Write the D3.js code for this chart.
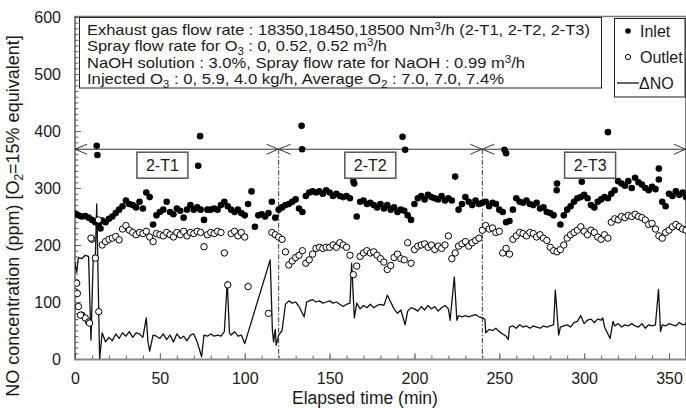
<!DOCTYPE html>
<html>
<head>
<meta charset="utf-8">
<script src="https://cdn.jsdelivr.net/npm/d3@7"></script>
<style>
body { margin: 0; background: #fff; }
text { font-family: Arial, "Liberation Sans", sans-serif; fill: #1a1a1a; }
</style>
</head>
<body>
<svg id="chart" width="686" height="408"></svg>
<script>
// ---- data ----
var timeStep = 2;   // minutes between samples of inlet / outlet

var inletNO = [
    255,252,250,251,248,244,240,236,243,240,
    246,250,256,262,268,278,272,270,266,276,
    264,292,284,236,252,258,262,276,258,254,
    264,260,248,262,270,262,266,262,244,262,
    262,264,262,270,276,268,262,258,262,256,
    252,272,294,232,252,254,250,256,276,248,
    262,266,270,272,276,280,264,258,286,292,
    294,292,294,290,296,292,286,290,286,284,
    286,282,312,250,276,278,272,274,270,266,
    272,264,270,262,266,258,262,260,252,244,
    272,282,286,280,288,284,282,280,286,278,
    282,278,320,262,272,284,276,270,278,272,
    274,276,268,274,272,262,258,240,242,262,
    282,276,274,278,272,270,274,264,266,258,
    256,252,308,236,252,262,268,276,282,284,
    288,282,270,266,276,280,284,282,290,296,
    312,308,304,312,300,318,310,306,300,296,
    302,298,334,276,268,290,286,294,288,292,
    284
];

var outletNO = [
    118,92,77,72,65,210,177,83,200,206,
    210,212,215,209,228,234,226,222,218,222,
    220,224,214,206,220,218,216,222,218,214,
    222,218,224,216,222,220,224,222,197,218,
    222,220,224,222,186,130,220,224,216,222,
    214,127,null,null,null,null,null,80,222,218,
    214,210,188,165,172,178,182,190,168,174,
    184,194,196,194,196,196,200,196,204,200,
    196,182,148,163,180,186,190,186,188,182,
    176,170,157,164,178,184,176,174,204,168,
    192,198,200,202,196,200,192,198,194,200,
    216,176,186,198,202,206,198,204,208,212,
    226,234,228,230,222,224,186,194,184,210,
    216,222,220,216,222,220,214,218,212,208,
    196,190,188,192,200,212,218,222,226,232,
    224,218,226,222,214,210,218,212,240,246,
    244,250,248,252,250,254,250,248,244,236,
    238,228,216,212,222,226,232,236,232,228,
    226
];

// isolated readings between the regular samples [min, ppm]
var inletExtra = [[12.8,374],[13.2,358],[15,229],[72.6,339],[73.7,391],[133.5,409],[133.8,368],
    [164.5,308],[193,390],[194.5,367],[253,367],[254,361],[283.8,296],[298.6,311],[314,398],[344,315]];
var outletExtra = [[1,133],[1.4,115],[3.2,77],[8.6,63],[9.4,212],[13.8,244]];

// delta NO (inlet - outlet) [min, ppm]
var deltaNO = [[0,168],[1,152],[2,178],[4,176],[6,182],[8,180],[9.4,33],[10.8,182],[12,180],[12.8,272],[14.5,0],
    [16,46],[18,30],[20,38],[22,32],[24,44],[26,36],[28,46],[30,40],[32,48],[34,38],[36,46],[38,44],[40,38],
    [42,72],[43,30],[44,14],[46,42],[48,40],[50,36],[52,44],[54,34],[56,42],[58,30],[60,44],[62,36],[64,40],
    [66,32],[68,42],[70,44],[72,30],[74.6,4],[76,42],[78,40],[80,44],[82,40],[84,42],[86,40],[88,48],[89.7,136],
    [91,46],[92,42],[94,48],[96,40],[98,42],[100,27],[115,174],[116.3,51],[117,30],[118,52],[118.5,24],[120,42],
    [122,50],[124,96],[126,102],[128,98],[130,100],[132,92],[135,74],[136.5,100],[138,102],[140,104],[142,100],
    [144,102],[146,98],[148,100],[150,102],[152,98],[154,100],[156,96],[158,92],[160,96],[162,98],[163,168],
    [164.6,72],[166,98],[168,88],[170,94],[172,90],[174,96],[176,90],[178,94],[180,96],[182,94],[184,112],
    [186,100],[188,88],[190,80],[192,86],[194.5,60],[196,84],[198,90],[200,88],[202,84],[204,92],[206,86],
    [208,94],[210,88],[212,92],[214,84],[216,90],[218,94],[220,88],[221,68],[223.5,144],[225,68],[226,76],
    [228,74],[230,76],[232,74],[234,76],[236,78],[238,74],[240,72],[241.5,70],[242,46],[244,52],[246,50],
    [248,54],[250,48],[252,44],[254,40],[255.3,34],[256,56],[258,58],[260,54],[262,60],[264,56],[266,58],
    [268,54],[270,58],[272,56],[274,54],[276,58],[278,56],[280,58],[282,60],[283,121],[285,42],[286,56],
    [288,58],[290,60],[292,56],[294,64],[296,66],[298,76],[300,62],[302,68],[304,70],[306,64],[308,70],
    [310,68],[311,72],[312,56],[315.3,36],[317,66],[318,58],[320,62],[322,56],[324,60],[326,58],[328,62],
    [330,58],[332,56],[334,62],[336,54],[338,60],[340,58],[342,60],[343.8,122],[345,48],[346,60],[348,58],
    [350,62],[352,60],[354,58],[356,64],[358,60],[360,62]];

var xTicks = [0, 50, 100, 150, 200, 250, 300, 350];
var yTicks = [0, 100, 200, 300, 400, 500, 600];
var phaseBounds = [0, 120, 240, 360];
var phaseNames = ["2-T1", "2-T2", "2-T3"];
var phaseArrowLevel = 368;

// info box lines: [text, kind] with kind "" / "sub" / "sup"
var infoLines = [
    [["Exhaust gas flow rate : 18350,18450,18500 Nm", ""], ["3", "sup"], ["/h (2-T1, 2-T2, 2-T3)", ""]],
    [["Spray flow rate for O", ""], ["3", "sub"], [" : 0, 0.52, 0.52 m", ""], ["3", "sup"], ["/h", ""]],
    [["NaOH solution : 3.0%, Spray flow rate for NaOH : 0.99 m", ""], ["3", "sup"], ["/h", ""]],
    [["Injected O", ""], ["3", "sub"], [" : 0, 5.9, 4.0 kg/h, Average O", ""], ["2", "sub"], ["  : 7.0, 7.0, 7.4%", ""]]
];
var legendNames = ["Inlet", "Outlet", "\u0394NO"];

// ---- layout ----
var svg = d3.select("#chart");
var plotL = 75, plotR = 686, plotT = 17, plotB = 359;

var x = d3.scaleLinear().domain([0, 360]).range([plotL, plotR]);
var y = d3.scaleLinear().domain([0, 600]).range([plotB, plotT]);

svg.append("defs").append("clipPath").attr("id", "plotClip")
    .append("rect").attr("x", plotL).attr("y", plotT).attr("width", plotR - plotL).attr("height", plotB - plotT);

function styleTicks(g, withText) {
    g.select(".domain").remove();
    g.selectAll("line").attr("stroke", "#666");
    if (withText)
        g.selectAll("text").attr("font-size", 16).attr("font-family", "Arial, 'Liberation Sans', sans-serif").attr("fill", "#1a1a1a");
}

// minor ticks
svg.append("g").attr("transform", "translate(0," + plotB + ")")
    .call(d3.axisBottom(x).tickValues(d3.range(0, 361, 10)).tickSize(-3.5).tickSizeOuter(0).tickFormat(""))
    .call(styleTicks, false);
svg.append("g").attr("transform", "translate(" + plotL + ",0)")
    .call(d3.axisLeft(y).tickValues(d3.range(0, 601, 10)).tickSize(-3.5).tickSizeOuter(0).tickFormat(""))
    .call(styleTicks, false);

// major ticks + labels
svg.append("g").attr("transform", "translate(0," + plotB + ")")
    .call(d3.axisBottom(x).tickValues(xTicks).tickSize(-6).tickSizeOuter(0).tickPadding(14))
    .call(styleTicks, true);
svg.append("g").attr("transform", "translate(" + plotL + ",0)")
    .call(d3.axisLeft(y).tickValues(yTicks).tickSize(-6).tickSizeOuter(0).tickPadding(14))
    .call(styleTicks, true);

// frame
svg.append("line").attr("x1", plotL).attr("x2", plotR).attr("y1", plotT - 0.5).attr("y2", plotT - 0.5)
    .attr("stroke", "#777").attr("stroke-width", 1.5);
svg.append("line").attr("x1", plotR - 0.5).attr("x2", plotR - 0.5).attr("y1", plotT).attr("y2", plotB)
    .attr("stroke", "#777").attr("stroke-width", 1);
svg.append("line").attr("x1", plotL).attr("x2", plotL).attr("y1", plotT - 1).attr("y2", plotB)
    .attr("stroke", "#333").attr("stroke-width", 1.2);
svg.append("line").attr("x1", plotL - 1).attr("x2", plotR).attr("y1", plotB + 0.5).attr("y2", plotB + 0.5)
    .attr("stroke", "#888").attr("stroke-width", 2);

// axis titles
svg.append("text").attr("x", 365).attr("y", 404).attr("text-anchor", "middle")
    .attr("font-size", 17.5).text("Elapsed time (min)");
var yTitle = svg.append("text").attr("transform", "translate(19,216) rotate(-90)")
    .attr("text-anchor", "middle").attr("font-size", 18);
yTitle.append("tspan").text("NO concentration (ppm) [O");
yTitle.append("tspan").attr("font-size", 12).attr("dy", 4).text("2");
yTitle.append("tspan").attr("dy", -4).text("=15% equivalent]");

// phase separators and arrows
var plot = svg.append("g").attr("clip-path", "url(#plotClip)");
var ay = y(phaseArrowLevel);
plot.selectAll(".sep").data(phaseBounds.slice(1, 3)).enter().append("line")
    .attr("x1", function (d) { return x(d); }).attr("x2", function (d) { return x(d); })
    .attr("y1", ay).attr("y2", plotB)
    .attr("stroke", "#333").attr("stroke-width", 1).attr("stroke-dasharray", "5,2,1.5,2");
plot.append("line").attr("x1", x(0)).attr("x2", x(360)).attr("y1", ay).attr("y2", ay)
    .attr("stroke", "#333").attr("stroke-width", 1);
var heads = [];
phaseBounds.forEach(function (b) {
    if (b < 360) heads.push([[x(b) + 12, ay - 5], [x(b), ay], [x(b) + 12, ay + 5]]);
    if (b > 0) heads.push([[x(b) - 12, ay - 5], [x(b) - 0.5, ay], [x(b) - 12, ay + 5]]);
});
plot.selectAll(".head").data(heads).enter().append("path")
    .attr("d", d3.line()).attr("fill", "none").attr("stroke", "#333").attr("stroke-width", 1);

// delta NO line
plot.append("path").datum(deltaNO)
    .attr("d", d3.line().x(function (d) { return x(d[0]); }).y(function (d) { return y(d[1]); }))
    .attr("fill", "none").attr("stroke", "#111").attr("stroke-width", 1.3).attr("stroke-linejoin", "round");

function samples(arr, extra) {
    var pts = [];
    arr.forEach(function (v, i) { if (v !== null) pts.push([i * timeStep, v]); });
    return pts.concat(extra);
}

plot.selectAll(".inlet").data(samples(inletNO, inletExtra)).enter().append("circle")
    .attr("cx", function (d) { return x(d[0]); }).attr("cy", function (d) { return y(d[1]); })
    .attr("r", 3.3).attr("fill", "#000");

plot.selectAll(".outlet").data(samples(outletNO, outletExtra)).enter().append("circle")
    .attr("cx", function (d) { return x(d[0]); }).attr("cy", function (d) { return y(d[1]); })
    .attr("r", 3.2).attr("fill", "#fff").attr("stroke", "#000").attr("stroke-width", 1);

// phase label boxes
var labelX = [51.5, 174, 303.5];
var labelG = svg.selectAll(".phase").data(phaseNames).enter().append("g")
    .attr("transform", function (d, i) { return "translate(" + x(labelX[i]) + "," + y(340) + ")"; });
labelG.append("rect").attr("x", -25.5).attr("y", -13).attr("width", 51).attr("height", 26)
    .attr("fill", "#fff").attr("stroke", "#555").attr("stroke-width", 1.5);
labelG.append("text").attr("text-anchor", "middle").attr("y", 6).attr("font-size", 16)
    .text(function (d) { return d; });

// info box (text widths follow the reference, which is drawn slightly wide)
svg.append("rect").attr("x", 79.5).attr("y", 17.5).attr("width", 522).attr("height", 70.5)
    .attr("fill", "#fff").attr("stroke", "#222").attr("stroke-width", 1);
var baselines = [35, 51, 67.5, 84];
var lineWidths = [503, 300, 438, 417];
infoLines.forEach(function (line, i) {
    var t = svg.append("text").attr("x", 87).attr("y", baselines[i]).attr("font-size", 15)
        .attr("textLength", lineWidths[i]).attr("lengthAdjust", "spacingAndGlyphs");
    var shift = 0;
    line.forEach(function (seg) {
        var target = seg[1] === "sub" ? 4 : (seg[1] === "sup" ? -5 : 0);
        var sp = t.append("tspan").attr("dy", target - shift).text(seg[0]);
        if (seg[1] !== "") sp.attr("font-size", 10.5);
        shift = target;
    });
});

// legend
svg.append("rect").attr("x", 614.5).attr("y", 18.5).attr("width", 70.5).attr("height", 78.5)
    .attr("fill", "#fff").attr("stroke", "#222").attr("stroke-width", 1);
var legendY = [31, 57, 83];
svg.append("circle").attr("cx", 628).attr("cy", legendY[0]).attr("r", 2.8).attr("fill", "#000");
svg.append("circle").attr("cx", 628).attr("cy", legendY[1]).attr("r", 2.6)
    .attr("fill", "#fff").attr("stroke", "#000").attr("stroke-width", 1);
svg.append("line").attr("x1", 617).attr("x2", 639).attr("y1", legendY[2]).attr("y2", legendY[2])
    .attr("stroke", "#111").attr("stroke-width", 1.3);
svg.selectAll(".leg").data(legendNames).enter().append("text")
    .attr("x", function (d, i) { return i === 2 ? 639 : 640; })
    .attr("y", function (d, i) { return legendY[i] + 6; })
    .attr("font-size", 16).text(function (d) { return d; });
</script>
</body>
</html>
